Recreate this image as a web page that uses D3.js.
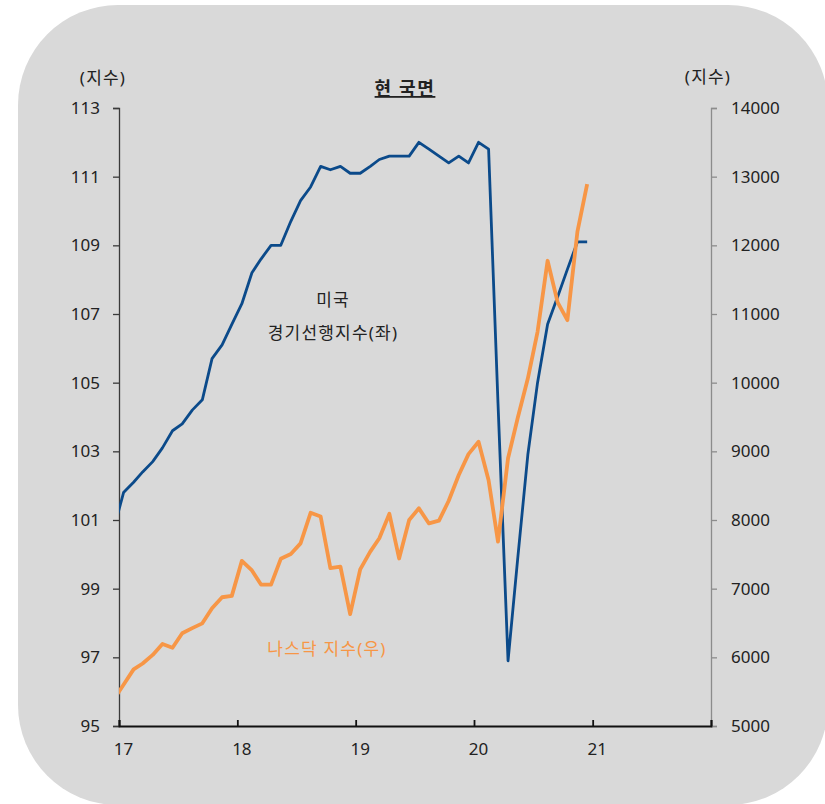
<!DOCTYPE html>
<html>
<head>
<meta charset="utf-8">
<script src="https://cdn.jsdelivr.net/npm/d3@7/dist/d3.min.js"></script>
<style>
  html, body { margin: 0; padding: 0; background: #ffffff; }
  svg text { font-family: "Noto Sans", "Noto Sans CJK KR", sans-serif; fill: #222; }
</style>
</head>
<body>
<div id="chart"></div>
<script>
(function() {
  'use strict';
  var WIDTH = 825;
  var HEIGHT = 804;

  // month-end data, Dec 2016 .. Dec 2020 (first point sits left of the axis and is clipped)
  var firstMonth = '2016-12';
  var leiValues = [100.7,
    101.8, 102.1, 102.4, 102.7, 103.1, 103.6, 103.8, 104.2, 104.5, 105.7, 106.1, 106.7,
    107.3, 108.2, 108.6, 109.0, 109.0, 109.7, 110.3, 110.7, 111.3, 111.2, 111.3, 111.1,
    111.1, 111.3, 111.5, 111.6, 111.6, 111.6, 112.0, 111.8, 111.6, 111.4, 111.6, 111.4,
    112.0, 111.8, 104.4, 96.9, 99.9, 102.9, 105.0, 106.7, 107.5, 108.3, 109.1, 109.1];
  var nasdaqValues = [5380,
    5600, 5825, 5910, 6035, 6195, 6140, 6350, 6425, 6495, 6715, 6875, 6895,
    7405, 7265, 7060, 7060, 7435, 7505, 7660, 8105, 8050, 7300, 7320, 6630,
    7280, 7540, 7735, 8090, 7440, 8000, 8170, 7950, 7990, 8280, 8655, 8960,
    9140, 8580, 7685, 8900, 9490, 10060, 10740, 11775, 11170, 10910, 12200, 12890];
  var yearTicks = ['2017', '2018', '2019', '2020', '2021', '2022'];
  var yearLabels = ['17', '18', '19', '20', '21'];
  var leftTicks = [95, 97, 99, 101, 103, 105, 107, 109, 111, 113];
  var rightTicks = [5000, 6000, 7000, 8000, 9000, 10000, 11000, 12000, 13000, 14000];

  var margin = {top: 108, right: 114, bottom: 78, left: 119};
  var width = WIDTH - margin.left - margin.right;
  var height = HEIGHT - margin.top - margin.bottom;

  var parseMonth = d3.utcParse('%Y-%m');
  var parseYear = d3.utcParse('%Y');
  var start = parseMonth(firstMonth);
  // points drawn at mid-month
  function monthDate(i) {
    return d3.utcDay.offset(d3.utcMonth.offset(start, i), 14);
  }
  var leiData = leiValues.map(function(v, i) { return {date: monthDate(i), value: v}; });
  var nasdaqData = nasdaqValues.map(function(v, i) { return {date: monthDate(i), value: v}; });

  var x = d3.scaleUtc()
    .domain([parseYear('2017'), parseYear('2022')])
    .range([0, width]);
  var yLeft = d3.scaleLinear().domain([95, 113]).range([height, 0]);
  var yRight = d3.scaleLinear().domain([5000, 14000]).range([height, 0]);

  var svg = d3.select('#chart').append('svg')
    .attr('width', WIDTH)
    .attr('height', HEIGHT);

  svg.append('rect')
    .attr('x', 18).attr('y', 5)
    .attr('width', 810).attr('height', 800)
    .attr('rx', 100).attr('ry', 100)
    .attr('fill', '#d9d9d9');

  var g = svg.append('g')
    .attr('transform', 'translate(' + margin.left + ',' + margin.top + ')');

  g.append('clipPath').attr('id', 'plotClip')
    .append('rect')
    .attr('x', 0).attr('y', -20)
    .attr('width', width).attr('height', height + 40);

  // left axis
  var leftAxis = g.append('g')
    .call(d3.axisLeft(yLeft).tickValues(leftTicks).tickSize(6).tickPadding(13));
  leftAxis.select('.domain').attr('stroke', '#3a3a3a').attr('stroke-width', 1.3);
  leftAxis.selectAll('.tick line').attr('stroke', '#3a3a3a').attr('stroke-width', 1.3);
  leftAxis.selectAll('.tick text').attr('font-size', 17)
    .style('font-family', '"Noto Sans", sans-serif').style('fill', '#222');

  // right axis
  var rightAxis = g.append('g')
    .attr('transform', 'translate(' + width + ',0)')
    .call(d3.axisRight(yRight).tickValues(rightTicks).tickSize(6).tickPadding(14)
      .tickFormat(d3.format('d')));
  rightAxis.select('.domain').attr('stroke', '#8c8c8c').attr('stroke-width', 1.3);
  rightAxis.selectAll('.tick line').attr('stroke', '#8c8c8c').attr('stroke-width', 1.3);
  rightAxis.selectAll('.tick text').attr('font-size', 17)
    .style('font-family', '"Noto Sans", sans-serif').style('fill', '#222');

  // bottom axis, ticks pointing inward
  var bottomAxis = g.append('g')
    .attr('transform', 'translate(0,' + height + ')')
    .call(d3.axisBottom(x).tickValues(yearTicks.map(parseYear)).tickSize(-6).tickFormat(''));
  bottomAxis.select('.domain').attr('stroke', '#111').attr('stroke-width', 1.8);
  bottomAxis.selectAll('.tick line').attr('stroke', '#111').attr('stroke-width', 1.8);

  g.append('g').selectAll('text')
    .data(yearLabels)
    .enter().append('text')
    .attr('x', function(d) { return x(d3.utcDay.offset(parseYear('20' + d), 14)); })
    .attr('y', height + 29)
    .attr('text-anchor', 'middle')
    .attr('font-size', 17)
    .text(function(d) { return d; });

  var leiLine = d3.line()
    .x(function(d) { return x(d.date); })
    .y(function(d) { return yLeft(d.value); });
  var nasdaqLine = d3.line()
    .x(function(d) { return x(d.date); })
    .y(function(d) { return yRight(d.value); });

  var lines = g.append('g').attr('clip-path', 'url(#plotClip)');
  lines.append('path')
    .datum(leiData)
    .attr('d', leiLine)
    .attr('fill', 'none')
    .attr('stroke', '#0b4a8a')
    .attr('stroke-width', 2.8)
    .attr('stroke-linejoin', 'round');
  lines.append('path')
    .datum(nasdaqData)
    .attr('d', nasdaqLine)
    .attr('fill', 'none')
    .attr('stroke', '#f79646')
    .attr('stroke-width', 3.8)
    .attr('stroke-linejoin', 'round');

  // texts
  function label(xp, yp, size, str) {
    return svg.append('text')
      .attr('x', xp).attr('y', yp)
      .attr('text-anchor', 'middle')
      .attr('font-size', size)
      .attr('letter-spacing', 1.2)
      .text(str);
  }
  label(103, 84, 17, '(지수)');
  label(708, 83, 17, '(지수)');
  label(405, 95, 18, '현 국면')
    .attr('font-weight', 'bold')
    .attr('letter-spacing', 1.6)
    .attr('text-decoration', 'underline');
  label(333, 306, 17, '미국');
  label(333, 339, 17, '경기선행지수(좌)');
  label(327, 655, 17, '나스닥 지수(우)').style('fill', '#f79646');
})();
</script>
</body>
</html>
